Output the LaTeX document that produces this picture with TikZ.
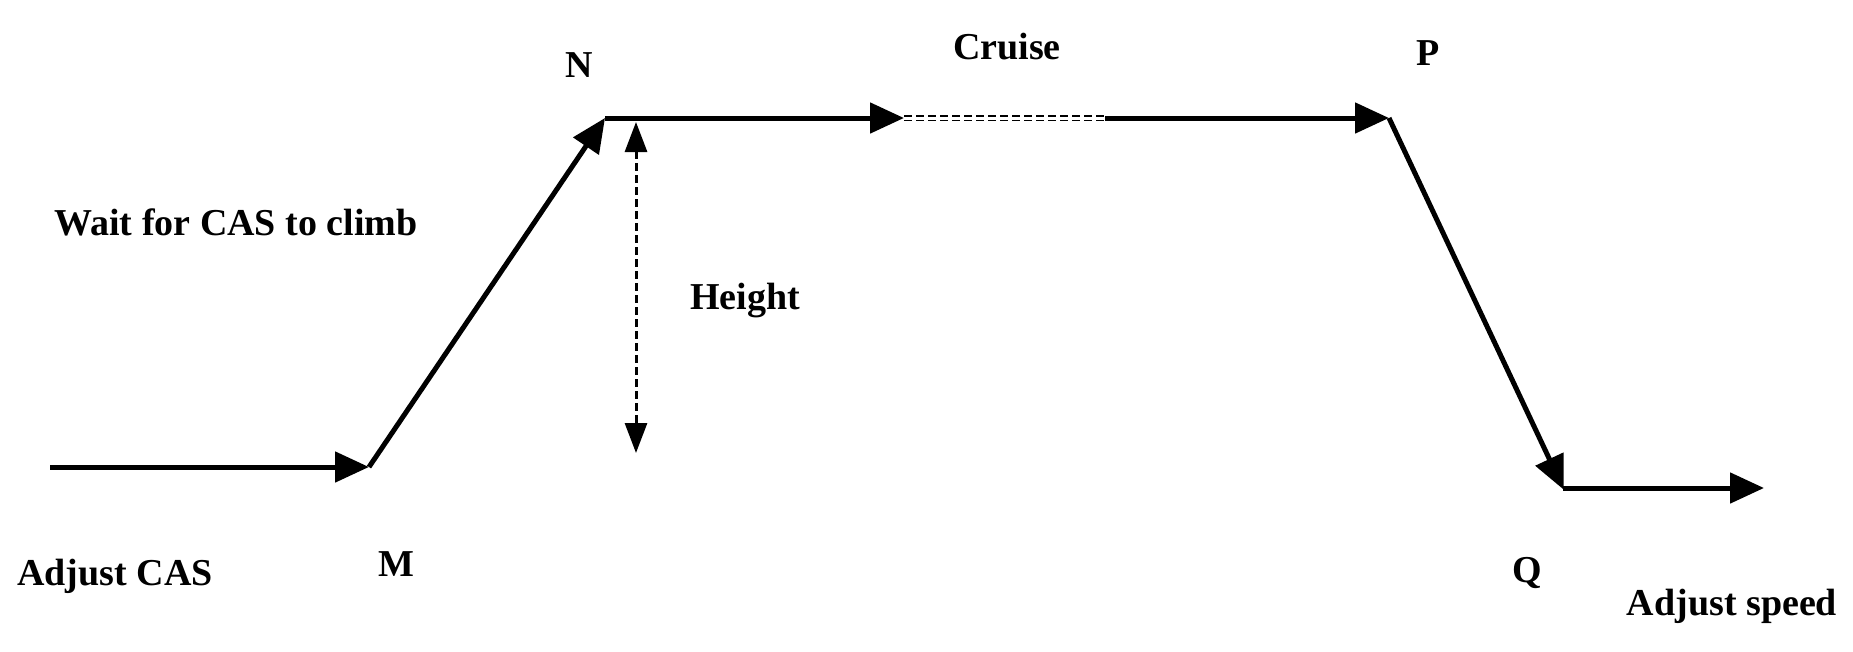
\documentclass[tikz,border=0pt]{standalone}
\usepackage{fontspec}
\setmainfont{Liberation Serif}
\usetikzlibrary{arrows.meta}
\begin{document}
\begin{tikzpicture}[x=1pt,y=-1pt,
  seg/.style={line width=5pt,-{Triangle[length=34pt,width=30pt]}},
  plain/.style={line width=5pt},
  lbl/.style={font=\fontsize{38}{44}\selectfont\bfseries,inner sep=0pt}]
\useasboundingbox (0,0) rectangle (1853,651);
\coordinate (A) at (50,467);
\coordinate (M) at (369,467);
\coordinate (N) at (605,118);
\coordinate (C1) at (904,118);
\coordinate (C2) at (1105,118);
\coordinate (P) at (1389,118);
\coordinate (Q) at (1563,488);
\coordinate (E) at (1764,488);
\coordinate (H1) at (636,122);
\coordinate (H2) at (636,453);
\draw[seg] (A) -- (M);
\draw[seg] (M) -- (N);
\draw[seg] (N) -- (C1);
\draw[line width=1.4pt,dashed,double,double distance=3pt,dash pattern=on 8pt off 4pt] (C1) -- (C2);
\draw[seg] (C2) -- (P);
\draw[seg,shorten >=-2pt] (P) -- (Q);
\draw[seg] (Q) -- (E);
\draw[line width=3pt,dash pattern=on 8pt off 4pt,{Triangle[length=30pt,width=22pt]}-{Triangle[length=30pt,width=22pt]}] (H1) -- (H2);
\node[lbl] (nN) at (579,65) {N};
\node[lbl] (nC) at (1007,47) {Cruise};
\node[lbl] (nP) at (1428,53) {P};
\node[lbl] (nW) at (236,222) {Wait for CAS to climb};
\node[lbl] (nH) at (745,301) {Height};
\node[lbl] (nM) at (396,564) {M};
\node[lbl] (nA) at (115,576) {Adjust CAS};
\node[lbl] (nQ) at (1527,573) {Q};
\node[lbl] (nS) at (1732,606) {Adjust speed};
\end{tikzpicture}
\end{document}
